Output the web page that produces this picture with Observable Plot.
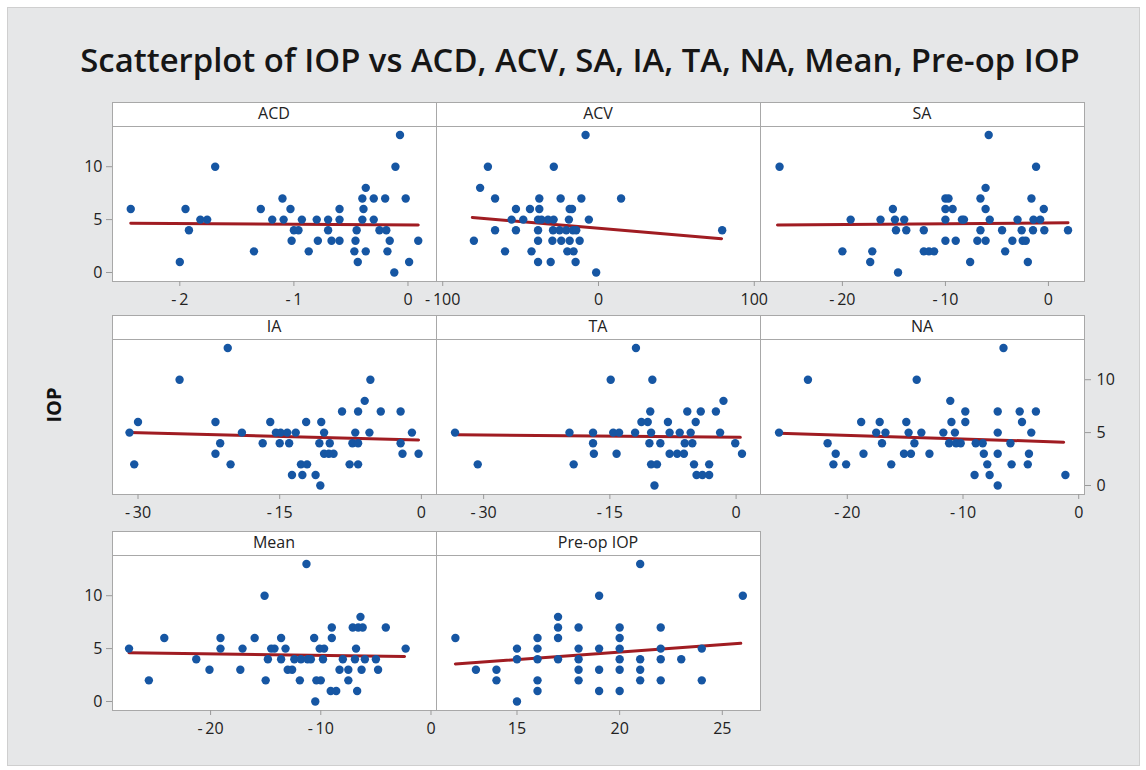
<!DOCTYPE html>
<html><head><meta charset="utf-8">
<script src="https://cdn.jsdelivr.net/npm/d3@7"></script>
<script src="https://cdn.jsdelivr.net/npm/@observablehq/plot@0.6"></script>
<style>
html,body{margin:0;padding:0;background:#fff;}
#root{position:relative;width:1146px;height:770px;overflow:hidden;font-family:"Open Sans",sans-serif;}
g[aria-label="x-axis tick"], g[aria-label="y-axis tick"]{stroke:#9a9a9a;}
</style></head><body><div id="root"></div>
<script>
// ---- Data ----
const titleText = "Scatterplot of IOP vs ACD, ACV, SA, IA, TA, NA, Mean, Pre-op IOP";
const yLabel = "IOP";
const panelNames = ["ACD", "ACV", "SA", "IA", "TA", "NA", "Mean", "Pre-op IOP"];

const acd = [[-2.43,6],[-2.0,1],[-1.95,6],[-1.92,4],[-1.82,5],[-1.76,5],[-1.69,10],[-1.35,2],[-1.29,6],[-1.19,5],[-1.10,7],[-1.09,5],[-1.03,6],[-1.02,3],[-1.0,4],[-0.96,4],[-0.93,5],[-0.87,2],[-0.80,5],[-0.79,3],[-0.70,5],[-0.70,4],[-0.67,3],[-0.60,6],[-0.60,5],[-0.60,3],[-0.47,2],[-0.46,3],[-0.45,4],[-0.44,1],[-0.40,7],[-0.40,5],[-0.39,6],[-0.37,8],[-0.37,2],[-0.30,7],[-0.30,5],[-0.25,4],[-0.20,7],[-0.19,4],[-0.18,2],[-0.16,3],[-0.12,0],[-0.11,10],[-0.07,13],[-0.02,7],[0.01,1],[0.09,3]];
const acv = [[-8.3,13],[-71,10],[-28.7,10],[-76,8],[-66.4,7],[-38,7],[-24.3,7],[-11,7],[14.5,7],[-53,6],[-44,6],[-38,6],[-18.5,6],[-17,6],[-55.8,5],[-48.3,5],[-38.8,5],[-36.6,5],[-32.4,5],[-28.8,5],[-19,5],[-6.2,5],[-66.4,4],[-53,4],[-38.8,4],[-29.2,4],[-25,4],[-20.7,4],[-16.4,4],[-14.3,4],[79.4,4],[-80,3],[-38.8,3],[-29.6,3],[-23.9,3],[-18.5,3],[-12.1,3],[-60,2],[-43,2],[-20,2],[-16,2],[-38.8,1],[-30.7,1],[-14.7,1],[-1.5,0]];
const sa = [[-5.8,13],[-26.1,10],[-1.2,10],[-6.1,8],[-10.0,7],[-9.7,7],[-6.6,7],[-1.65,7],[-15.1,6],[-10.0,6],[-9.3,6],[-6.1,6],[-0.45,6],[-19.2,5],[-16.3,5],[-14.9,5],[-14.0,5],[-10.0,5],[-8.4,5],[-8.2,5],[-5.7,5],[-3.0,5],[-1.45,5],[-0.8,5],[-14.8,4],[-13.8,4],[-12.1,4],[-6.6,4],[-4.5,4],[-2.6,4],[-1.5,4],[-0.4,4],[1.9,4],[-10.0,3],[-9.0,3],[-6.9,3],[-6.1,3],[-3.5,3],[-2.5,3],[-2.2,3],[-20,2],[-17.1,2],[-12.1,2],[-11.6,2],[-11.1,2],[-4.2,2],[-17.3,1],[-7.6,1],[-2.0,1],[-14.6,0]];
const ia = [[-20.5,13],[-25.6,10],[-5.4,10],[-6.0,8],[-8.4,7],[-6.7,7],[-4.3,7],[-2.2,7],[-30,6],[-21.8,6],[-16.0,6],[-12.2,6],[-10.6,6],[-30.9,5],[-19,5],[-15.4,5],[-14.9,5],[-14.2,5],[-13.3,5],[-10.3,5],[-7.0,5],[-5.5,5],[-1.0,5],[-21.3,4],[-16.8,4],[-15.0,4],[-14.0,4],[-10.8,4],[-9.7,4],[-7.3,4],[-6.7,4],[-2.2,4],[-21.8,3],[-10.3,3],[-9.8,3],[-9.3,3],[-2.0,3],[-0.3,3],[-30.4,2],[-20.2,2],[-12.75,2],[-12.1,2],[-7.6,2],[-6.7,2],[-13.7,1],[-12.6,1],[-11.2,1],[-10.7,0]];
const ta = [[-11.9,13],[-14.9,10],[-9.95,10],[-1.5,8],[-10.2,7],[-5.8,7],[-4.2,7],[-2.4,7],[-11.25,6],[-10.5,6],[-8.1,6],[-4.8,6],[-33.4,5],[-19.8,5],[-17,5],[-14.6,5],[-13.9,5],[-12.0,5],[-10.1,5],[-7.9,5],[-6.7,5],[-5.4,5],[-1.9,5],[-17,4],[-10.3,4],[-9.0,4],[-6.1,4],[-5.2,4],[-0.1,4],[-16.9,3],[-14.2,3],[-7.9,3],[-7.0,3],[-6.2,3],[0.7,3],[-30.7,2],[-19.3,2],[-10.1,2],[-9.4,2],[-5.0,2],[-3.2,2],[-4.7,1],[-4.0,1],[-3.2,1],[-9.7,0]];
const na = [[-6.5,13],[-23.4,10],[-14.0,10],[-11.1,8],[-9.8,7],[-7.0,7],[-5.1,7],[-3.7,7],[-18.8,6],[-17.2,6],[-14.9,6],[-11.0,6],[-9.8,6],[-4.9,6],[-25.9,5],[-17.5,5],[-16.7,5],[-14.7,5],[-13.6,5],[-11.7,5],[-10.7,5],[-7.0,5],[-4.1,5],[-21.7,4],[-17.0,4],[-14.2,4],[-11.2,4],[-10.6,4],[-10.2,4],[-8.9,4],[-8.3,4],[-5.9,4],[-21.0,3],[-18.6,3],[-15.1,3],[-14.5,3],[-12.9,3],[-8.2,3],[-7.0,3],[-4.3,3],[-21.2,2],[-20.1,2],[-16.2,2],[-7.9,2],[-5.8,2],[-4.4,2],[-9.0,1],[-7.7,1],[-1.15,1],[-7.0,0]];
const mean = [[-11.3,13],[-15.1,10],[-6.4,8],[-9.0,7],[-7.1,7],[-6.6,7],[-6.2,7],[-4.1,7],[-24.2,6],[-19.1,6],[-16.0,6],[-13.6,6],[-10.6,6],[-9.0,6],[-27.4,5],[-19.1,5],[-17.1,5],[-14.5,5],[-14.2,5],[-13.2,5],[-10.1,5],[-9.7,5],[-6.8,5],[-2.3,5],[-21.3,4],[-14.8,4],[-13.6,4],[-12.4,4],[-11.8,4],[-11.2,4],[-10.9,4],[-9.8,4],[-8.0,4],[-6.9,4],[-6.0,4],[-5.0,4],[-20.1,3],[-17.3,3],[-13.0,3],[-12.6,3],[-8.3,3],[-7.5,3],[-6.3,3],[-4.8,3],[-25.6,2],[-15.0,2],[-11.9,2],[-10.4,2],[-10.0,2],[-7.5,2],[-9.1,1],[-8.6,1],[-6.7,1],[-10.5,0]];
const preop = [[21,13],[19,10],[26,10],[17,8],[17,7],[18,7],[20,7],[22,7],[12,6],[16,6],[17,6],[20,6],[15,5],[16,5],[18,5],[19,5],[20,5],[22,5],[24,5],[15,4],[16,4],[17,4],[18,4],[20,4],[21,4],[22,4],[23,4],[13,3],[14,3],[18,3],[19,3],[20,3],[21,3],[14,2],[16,2],[18,2],[21,2],[22,2],[24,2],[16,1],[19,1],[20,1],[15,0]];
const panelData = [acd, acv, sa, ia, ta, na, mean, preop];

// fitted regression line end points [x1, y1, x2, y2]
const fits = [[-2.43,4.65,0.09,4.48],[-81,5.2,79,3.2],[-26.3,4.5,1.9,4.7],[-30.9,5.0,-0.3,4.3],[-33.1,4.8,0.5,4.55],[-25.9,4.95,-1.3,4.1],[-27.4,4.6,-2.4,4.25],[12,3.55,25.9,5.5]];

const xTicks = [[-2,-1,0],[-100,0,100],[-20,-10,0],[-30,-15,0],[-30,-15,0],[-20,-10,0],[-20,-10,0],[15,20,25]];
const xDomains = [[-2.59,0.25],[-104,104],[-27.95,3.5],[-32.7,1.6],[-35.6,2.9],[-27.5,0.5],[-28.9,0.5],[11.08,26.86]];
const yTicks = [0, 5, 10];
const yDomain = [-0.85, 13.8];

// ---- Layout ----
const root = document.getElementById("root");
const W = 324, H = 155, STRIP = 24;
const colLeft = [112, 436, 760];
const stripTop = [102, 315, 531];
const FONT = '"Open Sans", sans-serif';
const blue = "#1656a3", red = "#a01c22";
const fmt = d => d < 0 ? "-\u2009" + (-d) : String(d);

const deco = d3.select(root).append("svg").attr("width", 1146).attr("height", 770)
  .style("position", "absolute").style("left", "0px").style("top", "0px");
deco.append("rect").attr("x", 7.5).attr("y", 7.5).attr("width", 1132).attr("height", 758)
  .attr("fill", "#e6e7e8").attr("stroke", "#cfcfcf");
const title = deco.append("text").attr("x", 580).attr("y", 72).attr("text-anchor", "middle")
  .attr("font-family", FONT).attr("font-weight", 600).attr("font-size", 30).attr("fill", "#161616").text(titleText);
const tl = title.node().getComputedTextLength();
title.attr("font-size", 30 * 1000 / tl);
deco.append("text").attr("transform", "translate(53,405) rotate(-90)").attr("text-anchor", "middle")
  .attr("dominant-baseline", "central").attr("font-family", FONT).attr("font-weight", 700)
  .attr("font-size", 20).attr("fill", "#111").text(yLabel);

panelNames.forEach((name, i) => {
  const col = i % 3, row = Math.floor(i / 3);
  const fl = colLeft[col], st = stripTop[row], ft = st + STRIP;
  deco.append("rect").attr("x", fl + 0.5).attr("y", st + 0.5).attr("width", W).attr("height", STRIP)
    .attr("fill", "white").attr("stroke", "#a8a8a8");
  deco.append("text").attr("x", fl + W / 2).attr("y", st + 17).attr("text-anchor", "middle")
    .attr("font-family", FONT).attr("font-size", 16).attr("fill", "#222").text(name);

  const mL = 45, mR = 45, mB = 36;
  const pts = panelData[i].map(([x, y]) => ({x, y}));
  const f = fits[i];
  const fitPts = [{x: f[0], y: f[1]}, {x: f[2], y: f[3]}];
  const yAxis = (i === 0 || i === 6) ? "left" : (i === 5 ? "right" : null);
  const marks = [
    Plot.frame({fill: "white", stroke: "#a8a8a8"}),
    Plot.axisX({ticks: xTicks[i], tickSize: 5, tickPadding: 7, tickFormat: fmt, fontSize: 16, label: null, color: "#222"})
  ];
  if (yAxis) marks.push(Plot.axisY({anchor: yAxis, ticks: yTicks, tickSize: 6, tickPadding: yAxis === "left" ? 4 : 6, label: null, fontSize: 16, color: "#222"}));
  marks.push(Plot.line(fitPts, {x: "x", y: "y", stroke: red, strokeWidth: 3}));
  marks.push(Plot.dot(pts, {x: "x", y: "y", r: 4.2, fill: blue}));
  const svg = Plot.plot({
    width: W + mL + mR, height: H + mB,
    marginLeft: mL, marginRight: mR, marginTop: 0, marginBottom: mB,
    x: {domain: xDomains[i]},
    y: yAxis ? {domain: yDomain} : {domain: yDomain, axis: null},
    style: {background: "none", overflow: "visible", fontFamily: FONT},
    marks
  });
  svg.style.position = "absolute";
  svg.style.left = (fl - mL) + "px";
  svg.style.top = ft + "px";
  root.appendChild(svg);
});
</script></body></html>
